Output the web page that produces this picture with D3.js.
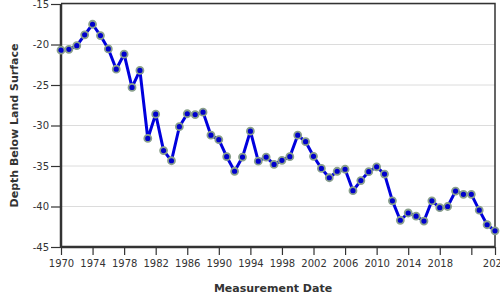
<!DOCTYPE html>
<html>
<head>
<meta charset="utf-8">
<script src="https://cdn.jsdelivr.net/npm/d3@7"></script>
<style>
  body { margin: 0; background: #fff; }
  svg { display: block; font-family: "DejaVu Sans", Verdana, sans-serif; }
</style>
</head>
<body>
<div id="chart"></div>
<script>
// yearly depth readings
var years = [1970, 1971, 1972, 1973, 1974, 1975, 1976, 1977, 1978, 1979,
             1980, 1981, 1982, 1983, 1984, 1985, 1986, 1987, 1988, 1989,
             1990, 1991, 1992, 1993, 1994, 1995, 1996, 1997, 1998, 1999,
             2000, 2001, 2002, 2003, 2004, 2005, 2006, 2007, 2008, 2009,
             2010, 2011, 2012, 2013, 2014, 2015, 2016, 2017, 2018, 2019,
             2020, 2021, 2022, 2023, 2024, 2025];
var depths = [-20.7, -20.6, -20.15, -18.8, -17.5, -18.9, -20.55, -23.05, -21.2, -25.3,
              -23.2, -31.6, -28.6, -33.1, -34.35, -30.15, -28.55, -28.65, -28.35, -31.2,
              -31.75, -33.85, -35.65, -33.9, -30.7, -34.4, -33.9, -34.8, -34.3, -33.85,
              -31.2, -32.0, -33.8, -35.3, -36.45, -35.65, -35.4, -38.05, -36.8, -35.7,
              -35.1, -36.0, -39.3, -41.7, -40.8, -41.2, -41.8, -39.3, -40.15, -40.0,
              -38.1, -38.5, -38.5, -40.45, -42.25, -43.0];
var yTicks = [-15, -20, -25, -30, -35, -40, -45];
var xTicks = [1970, 1974, 1978, 1982, 1986, 1990, 1994, 1998, 2002, 2006, 2010, 2014, 2018, 2022, 2025];
var xTickLabels = ["1970", "1974", "1978", "1982", "1986", "1990", "1994", "1998", "2002", "2006", "2010", "2014", "2018", "", "2025"];

var data = years.map(function(yr, i) { return {year: yr, depth: depths[i]}; });

var margin = {top: 4, right: 5, bottom: 53, left: 61},
    width = 500 - margin.left - margin.right,
    height = 300 - margin.top - margin.bottom;

var svg = d3.select("#chart").append("svg")
    .attr("width", 500)
    .attr("height", 300)
  .append("g")
    .attr("transform", "translate(" + margin.left + "," + margin.top + ")");

var x = d3.scaleLinear().domain([1970, 2025]).range([0, width]);
var y = d3.scaleLinear().domain([-45, -15]).range([height, 0]);

// grid lines
svg.append("g")
  .selectAll("line")
  .data(yTicks)
  .join("line")
    .attr("x1", 0)
    .attr("x2", width)
    .attr("y1", d => y(d))
    .attr("y2", d => y(d))
    .attr("stroke", "#dcdcdc")
    .attr("stroke-width", 1);

// frame top + right
svg.append("path")
  .attr("d", "M0," + (-0.5) + "H" + width + "V" + height)
  .attr("fill", "none")
  .attr("stroke", "#333")
  .attr("stroke-width", 1.5);

// axes
var xAxis = svg.append("g")
  .attr("transform", "translate(0," + height + ")")
  .call(d3.axisBottom(x)
    .tickValues(xTicks)
    .tickFormat((d, i) => xTickLabels[i])
    .tickSize(8)
    .tickPadding(5));

var yAxis = svg.append("g")
  .call(d3.axisLeft(y)
    .tickValues(yTicks)
    .tickFormat(d => String(d))
    .tickSize(10)
    .tickPadding(2));

[xAxis, yAxis].forEach(function(a) {
  a.select(".domain").attr("stroke", "#333").attr("stroke-width", 2.5);
  a.selectAll(".tick line").attr("stroke", "#333").attr("stroke-width", 1.2);
  a.selectAll(".tick text")
    .attr("fill", "#333")
    .style("font-size", "10px")
    .style("font-family", "'DejaVu Sans', Verdana, sans-serif");
});
xAxis.select(".domain").attr("d", "M0,0H" + width);
yAxis.select(".domain").attr("d", "M0,0V" + height);

// line
var line = d3.line()
  .x(d => x(d.year))
  .y(d => y(d.depth));

svg.append("path")
  .datum(data)
  .attr("fill", "none")
  .attr("stroke", "#0000dd")
  .attr("stroke-width", 3)
  .attr("stroke-linejoin", "round")
  .attr("d", line);

svg.append("g")
  .selectAll("circle")
  .data(data)
  .join("circle")
    .attr("cx", d => x(d.year))
    .attr("cy", d => y(d.depth))
    .attr("r", 3.5)
    .attr("fill", "#0000cc")
    .attr("stroke", "#8aa08c")
    .attr("stroke-width", 1.8);

// axis titles
svg.append("text")
  .attr("x", width / 2 - 5)
  .attr("y", height + 45)
  .attr("text-anchor", "middle")
  .attr("fill", "#333")
  .style("font-size", "11px")
  .style("font-weight", "bold")
  .text("Measurement Date");

svg.append("text")
  .attr("transform", "translate(" + (-43) + "," + (height / 2) + ") rotate(-90)")
  .attr("text-anchor", "middle")
  .attr("fill", "#333")
  .style("font-size", "11px")
  .style("font-weight", "bold")
  .text("Depth Below Land Surface");
</script>
</body>
</html>
